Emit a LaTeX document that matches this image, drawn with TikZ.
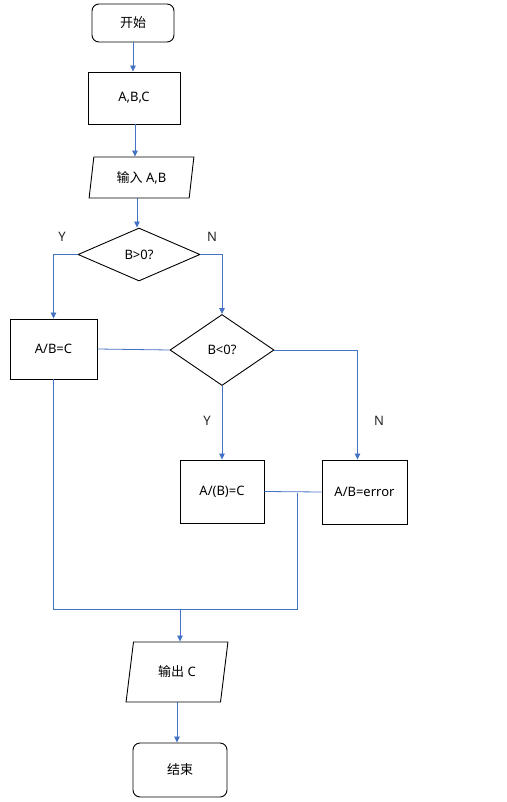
\documentclass[tikz,border=0pt]{standalone}
\usepackage{fontspec}
\setmainfont{Noto Sans}
\newfontfamily\cjk{Noto Sans CJK SC}
\usetikzlibrary{%
  arrows.meta
 ,shapes.geometric
}
\definecolor{lnblue}{RGB}{68,114,196}
\tikzstyle{flow}=[x=1pt,y=-1pt,font=\fontsize{13}{15}\selectfont,inner sep=0pt]
\tikzstyle{term}=[rectangle,rounded corners=7pt,draw=black,line width=0.9pt]
\tikzstyle{proc}=[rectangle,draw=black,line width=0.9pt]
\tikzstyle{io}=[trapezium,trapezium stretches=true,draw=black,line width=0.9pt]
\tikzstyle{dec}=[diamond,draw=black,line width=0.9pt]
\tikzstyle{ln}=[draw=lnblue,line width=0.8pt]
\tikzstyle{arr}=[ln,-{Triangle[length=6pt,width=5.5pt]}]
\tikzstyle{lbl}=[text=black!85]

\begin{document}
\begin{tikzpicture}[flow]
      \useasboundingbox (0,0) rectangle (506,802);
      \node[term,minimum width=82pt,minimum height=38pt] (st) at (133,23) {\cjk 开始};
      \node[proc,minimum width=92pt,minimum height=52pt] (abc) at (134,98) {A,B,C};
      \node[io,trapezium left angle=79,trapezium right angle=101,
            minimum width=105pt,minimum height=41pt] (in) at (141.5,177.5) {{\cjk 输入} A,B};
      \node[dec,minimum width=122pt,minimum height=53pt] (d_1) at (139,254.5) {B>0?};
      \node[proc,minimum width=87pt,minimum height=60pt] (r_1) at (53.5,349) {A/B=C};
      \node[dec,minimum width=104pt,minimum height=71pt] (d_2) at (222,350) {B<0?};
      \node[proc,minimum width=84pt,minimum height=63pt] (r_2) at (222,491.5) {A/(B)=C};
      \node[proc,minimum width=85pt,minimum height=64pt] (r_3) at (364.5,492) {A/B=error};
      \node[io,trapezium left angle=75,trapezium right angle=105,
            minimum width=102pt,minimum height=60pt] (out) at (177,672) {{\cjk 输出} C};
      \node[term,minimum width=94pt,minimum height=54pt] (end) at (180,770) {\cjk 结束};
      % labels
      \node[lbl] (y_1) at (62,237) {Y};
      \node[lbl] (n_1) at (212,237) {N};
      \node[lbl] (y_2) at (207,421) {Y};
      \node[lbl] (n_2) at (379,421) {N};
      % merge points
      \coordinate (m_1) at (297,493);
      \coordinate (m_2) at (297,609);
      \coordinate (m_3) at (180,609);
      \draw[arr] (st.south) -- (st.south |- abc.north);
      \draw[arr] ([xshift=1pt]abc.south) -- ([xshift=1pt]abc.south |- in.north);
      \draw[arr] ([xshift=-2pt]d_1.north |- in.south) -- ([xshift=-2pt]d_1.north);
      \draw[arr] (d_1.west) -| (r_1.north);
      \draw[arr] (d_1.east) -| (d_2.north);
      \draw[arr] (d_2.east) -| ([xshift=-7pt]r_3.north);
      \draw[arr] (d_2.south) -- (r_2.north);
      \draw[ln] (r_1.east) -- (d_2.west);
      \draw[ln] (r_2.east) -- (r_3.west);
      \draw[ln] (m_1) -- (m_2) -- (r_1.south |- m_2) -- (r_1.south);
      \draw[arr] (m_3) -- (m_3 |- out.north);
      \draw[arr] (out.south) -- (out.south |- end.north);
    \end{tikzpicture}
\end{document}
